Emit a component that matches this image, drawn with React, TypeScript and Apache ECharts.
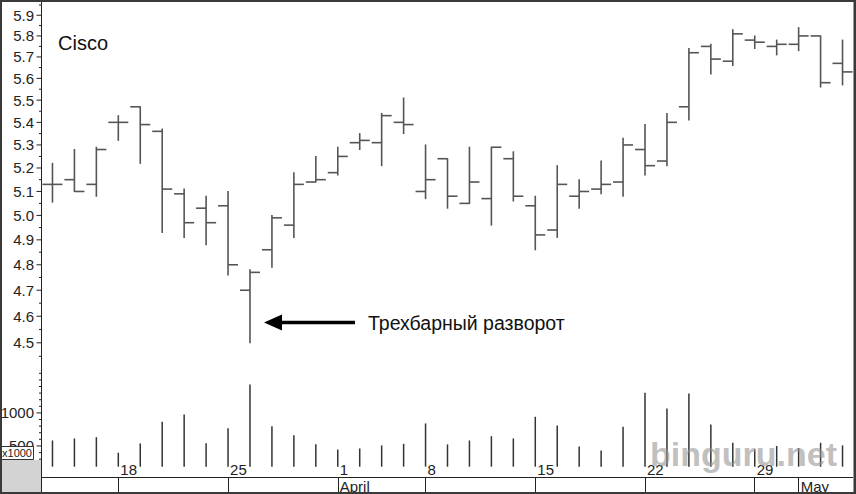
import React, { useEffect, useRef } from 'react';
import * as echarts from 'echarts';

const dates = [
  '1996-03-13', '1996-03-14', '1996-03-15',
  '1996-03-18', '1996-03-19', '1996-03-20', '1996-03-21', '1996-03-22',
  '1996-03-25', '1996-03-26', '1996-03-27', '1996-03-28', '1996-03-29',
  '1996-04-01', '1996-04-02', '1996-04-03', '1996-04-04',
  '1996-04-08', '1996-04-09', '1996-04-10', '1996-04-11', '1996-04-12',
  '1996-04-15', '1996-04-16', '1996-04-17', '1996-04-18', '1996-04-19',
  '1996-04-22', '1996-04-23', '1996-04-24', '1996-04-25', '1996-04-26',
  '1996-04-29', '1996-04-30',
  '1996-05-01', '1996-05-02', '1996-05-03',
];

const openP = [5.13, 5.15, 5.13, 5.40, 5.47, 5.36, 5.09, 5.03, 5.04, 4.70, 4.86, 4.96, 5.14, 5.18, 5.31, 5.31, 5.40, 5.10, 5.24, 5.05, 5.07, 5.24, 5.04, 4.94, 5.08, 5.11, 5.14, 5.28, 5.23, 5.47, 5.75, 5.68, 5.78, 5.75, 5.76, 5.80, 5.67];
const highP = [5.22, 5.28, 5.29, 5.43, 5.47, 5.37, 5.11, 5.08, 5.10, 4.78, 5.00, 5.18, 5.25, 5.29, 5.35, 5.44, 5.51, 5.30, 5.24, 5.29, 5.29, 5.27, 5.08, 5.21, 5.15, 5.23, 5.33, 5.39, 5.44, 5.74, 5.76, 5.83, 5.80, 5.78, 5.84, 5.80, 5.78];
const lowP = [5.055, 5.10, 5.08, 5.32, 5.22, 4.93, 4.91, 4.88, 4.76, 4.50, 4.79, 4.91, 5.14, 5.17, 5.28, 5.21, 5.35, 5.07, 5.03, 5.05, 4.96, 5.06, 4.86, 4.91, 5.03, 5.09, 5.08, 5.17, 5.21, 5.41, 5.62, 5.66, 5.74, 5.71, 5.73, 5.56, 5.57];
const closeP = [5.13, 5.10, 5.28, 5.40, 5.39, 5.11, 4.97, 4.97, 4.80, 4.77, 4.99, 5.13, 5.15, 5.25, 5.32, 5.43, 5.39, 5.15, 5.08, 5.14, 5.29, 5.08, 4.92, 5.13, 5.10, 5.13, 5.30, 5.21, 5.40, 5.72, 5.69, 5.81, 5.77, 5.76, 5.80, 5.58, 5.63];

// volume in thousands
const volume = [583, 614, 633, 397, 538, 867, 977, 542, 770, 1432, 800, 664, 527, 447, 462, 508, 533, 841, 523, 583, 648, 614, 942, 811, 492, 432, 791, 1306, 1068, 1295, 826, 548, 450, 500, 470, 548, 508];

const priceTicks = [4.45, 4.5, 4.55, 4.6, 4.65, 4.7, 4.75, 4.8, 4.85, 4.9, 4.95, 5.0, 5.05, 5.1, 5.15, 5.2, 5.25, 5.3, 5.35, 5.4, 5.45, 5.5, 5.55, 5.6, 5.65, 5.7, 5.75, 5.8, 5.85, 5.9, 5.95];
const priceLabels = ['4.5', '4.6', '4.7', '4.8', '4.9', '5.0', '5.1', '5.2', '5.3', '5.4', '5.5', '5.6', '5.7', '5.8', '5.9'];
const volumeTicks = [200, 300, 400, 500, 600, 700, 800, 900, 1000, 1100, 1200, 1300, 1400, 1500, 1600];
const volumeLabels = ['500', '1000'];
const monthNames = ['January', 'February', 'March', 'April', 'May', 'June', 'July', 'August', 'September', 'October', 'November', 'December'];

const title = 'Cisco';
const annotation = 'Трехбарный разворот';
const watermark = 'binguru.net';
const volUnit = 'x1000';

const priceMin = 4.40;
const priceMax = 5.97;
const volMin = 186;
const volMax = 1650;

const FONT = '"Liberation Sans", Arial, Helvetica, sans-serif';

const dObj = (s: string) => new Date(s + 'T00:00:00Z');
const isWeekStart = (i: number) => dObj(dates[i]).getUTCDay() === 1;
const isMonthStart = (i: number) => i > 0 && dObj(dates[i]).getUTCMonth() !== dObj(dates[i - 1]).getUTCMonth();

export default function App() {
  const ref = useRef<HTMLDivElement>(null);

  useEffect(() => {
    if (!ref.current) return;
    const chart = echarts.init(ref.current, null, { renderer: 'svg' });

    const gridLeft = 41.5;
    const gridWidth = 812;
    const barColor = '#555';

    const ohlcData = dates.map((_, i) => [i, Math.log(openP[i]), Math.log(highP[i]), Math.log(lowP[i]), Math.log(closeP[i])]);

    const option: any = {
      animation: false,
      backgroundColor: '#fff',
      grid: [
        { left: gridLeft, width: gridWidth, top: 1, height: 369 },
        { left: gridLeft, width: gridWidth, top: 370, height: 96.7 },
        { left: gridLeft, width: gridWidth, top: 460, height: 17 },
      ],
      xAxis: [
        { gridIndex: 0, type: 'category', data: dates, show: false },
        { gridIndex: 1, type: 'category', data: dates, show: false },
        {
          gridIndex: 2, type: 'category', data: dates, position: 'top',
          axisLine: { show: true, lineStyle: { color: '#222', width: 1 } },
          axisTick: { show: true, inside: true, length: 17, alignWithLabel: true, interval: (i: number) => isWeekStart(i), lineStyle: { color: '#222', width: 1 } },
          axisLabel: {
            show: true, inside: true, interval: (i: number) => isWeekStart(i),
            formatter: (v: string) => String(dObj(v).getUTCDate()),
            align: 'left', verticalAlign: 'top', margin: 2, padding: [0, 0, 0, 2],
            fontSize: 15, fontFamily: FONT, color: '#222',
          },
          splitLine: { show: false },
        },
        {
          gridIndex: 2, type: 'category', data: dates, position: 'bottom',
          axisLine: { show: true, lineStyle: { color: '#222', width: 1 } },
          axisTick: { show: true, inside: false, length: 17, alignWithLabel: true, interval: (i: number) => isMonthStart(i), lineStyle: { color: '#222', width: 1 } },
          axisLabel: {
            show: true, interval: (i: number) => isMonthStart(i),
            formatter: (v: string) => monthNames[dObj(v).getUTCMonth()],
            align: 'left', verticalAlign: 'top', margin: 2, padding: [0, 0, 0, 2],
            fontSize: 15, fontFamily: FONT, color: '#222',
          },
          splitLine: { show: false },
        },
      ],
      yAxis: [
        { gridIndex: 0, type: 'value', min: Math.log(priceMin), max: Math.log(priceMax), show: false },
        { gridIndex: 1, type: 'value', min: volMin, max: volMax, show: false },
        { gridIndex: 2, type: 'value', min: 0, max: 1, show: false },
      ],
      series: [
        {
          type: 'custom', xAxisIndex: 0, yAxisIndex: 0, silent: true, clip: false,
          data: ohlcData,
          encode: { x: 0, y: [1, 2, 3, 4] },
          renderItem: (params: any, api: any) => {
            const x = api.value(0);
            const o = api.coord([x, api.value(1)]);
            const h = api.coord([x, api.value(2)]);
            const l = api.coord([x, api.value(3)]);
            const c = api.coord([x, api.value(4)]);
            const w = 10;
            const st = { stroke: barColor, lineWidth: 1.6 };
            return {
              type: 'group',
              children: [
                { type: 'line', shape: { x1: h[0], y1: h[1] - 0.5, x2: l[0], y2: l[1] + 0.5 }, style: st },
                { type: 'line', shape: { x1: o[0] - w, y1: o[1], x2: o[0], y2: o[1] }, style: st },
                { type: 'line', shape: { x1: c[0], y1: c[1], x2: c[0] + w, y2: c[1] }, style: st },
              ],
            };
          },
        },
        {
          type: 'bar', xAxisIndex: 1, yAxisIndex: 1, silent: true,
          data: volume, barWidth: 1.5,
          itemStyle: { color: '#333' },
        },
        {
          type: 'custom', xAxisIndex: 0, yAxisIndex: 0, silent: true, clip: false,
          data: priceTicks.map((v) => [0, Math.log(v)]),
          renderItem: (params: any, api: any) => {
            const cs = params.coordSys;
            const y = api.coord([0, api.value(1)])[1];
            const v = priceTicks[params.dataIndex];
            const lbl = v.toFixed(1);
            const major = priceLabels.indexOf(lbl) >= 0 && Math.abs(v * 10 - Math.round(v * 10)) < 1e-6;
            const children: any[] = [
              { type: 'line', shape: { x1: cs.x - (major ? 5 : 2.5), y1: y, x2: cs.x, y2: y }, style: { stroke: '#222', lineWidth: 1 } },
            ];
            if (major) {
              children.push({ type: 'text', x: 34, y, style: { text: lbl, fill: '#222', fontSize: 15, fontFamily: FONT, align: 'right', verticalAlign: 'middle' } });
            }
            return { type: 'group', children };
          },
        },
        {
          type: 'custom', xAxisIndex: 1, yAxisIndex: 1, silent: true, clip: false,
          data: volumeTicks.map((v) => [0, v]),
          renderItem: (params: any, api: any) => {
            const cs = params.coordSys;
            const y = api.coord([0, api.value(1)])[1];
            const v = volumeTicks[params.dataIndex];
            const major = volumeLabels.indexOf(String(v)) >= 0;
            const children: any[] = [
              { type: 'line', shape: { x1: cs.x - (major ? 5 : 2.5), y1: y, x2: cs.x, y2: y }, style: { stroke: '#222', lineWidth: 1 } },
            ];
            if (major) {
              children.push({ type: 'text', x: 34, y, style: { text: String(v), fill: '#222', fontSize: 15, fontFamily: FONT, align: 'right', verticalAlign: 'middle' } });
            }
            return { type: 'group', children };
          },
        },
      ],
      graphic: [
        { type: 'rect', z: 90, shape: { x: 0, y: 460, width: 41, height: 34 }, style: { fill: '#d3d3d3' } },
        { type: 'rect', z: 95, shape: { x: 0.5, y: 446.5, width: 33, height: 13 }, style: { fill: '#fff', stroke: '#333', lineWidth: 1 } },
        { type: 'text', z: 96, x: 17, y: 453, style: { text: volUnit, fill: '#222', fontSize: 11, fontFamily: FONT, align: 'center', verticalAlign: 'middle' } },
        { type: 'line', z: 97, shape: { x1: 41.5, y1: 0, x2: 41.5, y2: 494 }, style: { stroke: '#222', lineWidth: 1 } },
        { type: 'line', z: 97, shape: { x1: 853.5, y1: 0, x2: 853.5, y2: 494 }, style: { stroke: '#999', lineWidth: 1 } },
        { type: 'text', z: 50, x: 58, y: 43, style: { text: title, fill: '#111', fontSize: 20, fontFamily: FONT, align: 'left', verticalAlign: 'middle' } },
        { type: 'line', z: 50, shape: { x1: 280, y1: 322.5, x2: 355, y2: 322.5 }, style: { stroke: '#000', lineWidth: 3.5 } },
        { type: 'polygon', z: 50, shape: { points: [[264, 322.5], [282, 314.5], [282, 330.5]] }, style: { fill: '#000' } },
        { type: 'text', z: 50, x: 368, y: 323, style: { text: annotation, fill: '#111', fontSize: 19.5, fontFamily: FONT, align: 'left', verticalAlign: 'middle' } },
        { type: 'text', z: 98, x: 650, y: 454, style: { text: watermark, fill: 'rgba(150,150,150,0.6)', fontSize: 34, fontWeight: 'bold', fontFamily: FONT, align: 'left', verticalAlign: 'middle' } },
        { type: 'rect', z: 99, shape: { x: 1, y: 1, width: 854, height: 492 }, style: { fill: 'none', stroke: '#3a3a3a', lineWidth: 2 } },
      ],
    };

    chart.setOption(option);
    return () => chart.dispose();
  }, []);

  return <div ref={ref} style={{ position: 'absolute', left: 0, top: 0, width: 856, height: 494 }} />;
}
